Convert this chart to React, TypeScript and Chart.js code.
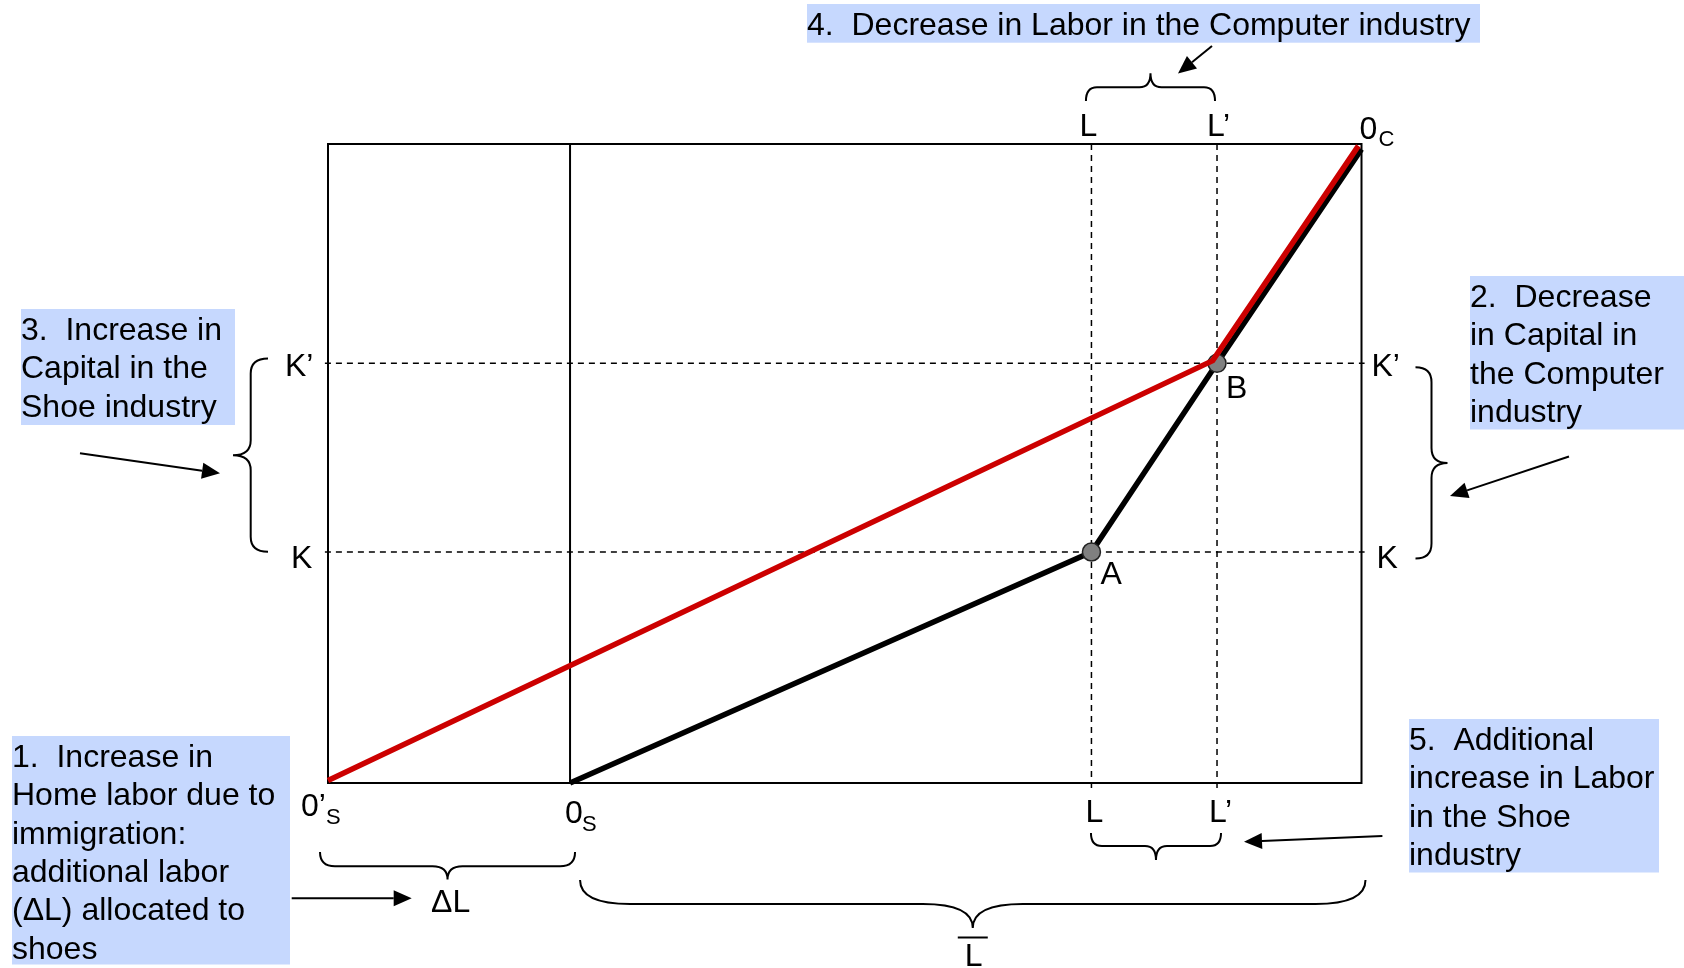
import React, { useEffect, useRef } from "react";
import { Chart, registerables } from "chart.js";

Chart.register(...registerables);

// ---- Data (labor on x, capital on y; 0'S at bottom-left, 0C at top-right) ----
const X_RANGE = [0, 100];
const Y_RANGE = [0, 100];
const originShoeNew = 0; // 0'S
const originShoe = 23.42; // 0S
const laborL = 73.87; // L
const laborL2 = 86.02; // L'
const capitalK = 36.15; // K
const capitalK2 = 65.68; // K'

const redX = [0, 85.6, 99.7];
const redY = [0.4, 66.1, 99.7];
const blackX = [23.42, 73.87, 86.02, 100];
const blackY = [0, 36.15, 65.68, 99.2];
const pointNames = ["A", "B"];
const pointX = [73.87, 86.02];
const pointY = [36.15, 65.68];

const box1Lines = ["1.  Increase in", "Home labor due to", "immigration:", "additional labor", "(\u0394L) allocated to", "shoes"];
const box2Lines = ["2.  Decrease", "in Capital in", "the Computer", "industry"];
const box3Lines = ["3.  Increase in", "Capital in the", "Shoe industry"];
const box4Lines = ["4.  Decrease in Labor in the Computer industry"];
const box5Lines = ["5.  Additional", "increase in Labor", "in the Shoe", "industry"];

const FONT = '"Liberation Sans", Arial, sans-serif';
const BOX_FILL = "#c6d8fe";
const RED = "#cc0000";

function pts(xs: number[], ys: number[]) {
  return xs.map((x, i) => ({ x, y: ys[i] }));
}

function brace(ctx: CanvasRenderingContext2D, ax: number, ay: number, bx: number, by: number, h1: number, h2: number, r: number, side: number) {
  const dx = bx - ax, dy = by - ay;
  const len = Math.hypot(dx, dy);
  const ux = dx / len, uy = dy / len;
  const nx = -uy * side, ny = ux * side;
  const P = (s: number, t: number): [number, number] => [ax + s * ux + t * nx, ay + s * uy + t * ny];
  const m = len / 2;
  ctx.beginPath();
  let p = P(0, 0);
  ctx.moveTo(p[0], p[1]);
  let c = P(0, h1); p = P(r, h1);
  ctx.quadraticCurveTo(c[0], c[1], p[0], p[1]);
  p = P(m - r, h1);
  ctx.lineTo(p[0], p[1]);
  c = P(m, h1); p = P(m, h1 + h2);
  ctx.quadraticCurveTo(c[0], c[1], p[0], p[1]);
  p = P(len, 0);
  ctx.moveTo(p[0], p[1]);
  c = P(len, h1); p = P(len - r, h1);
  ctx.quadraticCurveTo(c[0], c[1], p[0], p[1]);
  p = P(m + r, h1);
  ctx.lineTo(p[0], p[1]);
  c = P(m, h1); p = P(m, h1 + h2);
  ctx.quadraticCurveTo(c[0], c[1], p[0], p[1]);
  ctx.stroke();
}

function arrow(ctx: CanvasRenderingContext2D, x1: number, y1: number, x2: number, y2: number) {
  const ang = Math.atan2(y2 - y1, x2 - x1);
  const hl = 18, hw = 8;
  const bx = x2 - hl * Math.cos(ang), by = y2 - hl * Math.sin(ang);
  ctx.beginPath();
  ctx.moveTo(x1, y1);
  ctx.lineTo(bx, by);
  ctx.stroke();
  ctx.beginPath();
  ctx.moveTo(x2, y2);
  ctx.lineTo(bx + hw * Math.sin(ang), by - hw * Math.cos(ang));
  ctx.lineTo(bx - hw * Math.sin(ang), by + hw * Math.cos(ang));
  ctx.closePath();
  ctx.fill();
}

function textBox(ctx: CanvasRenderingContext2D, lines: string[], x: number, y: number, w: number, h: number) {
  ctx.fillStyle = BOX_FILL;
  ctx.fillRect(x, y, w, h);
  ctx.fillStyle = "#000";
  ctx.font = `32px ${FONT}`;
  ctx.textAlign = "left";
  ctx.textBaseline = "alphabetic";
  lines.forEach((ln, i) => ctx.fillText(ln, x, y + 31 + i * 38.3));
}

function label(ctx: CanvasRenderingContext2D, main: string, x: number, y: number, sub?: string, subDx?: number, subDy?: number) {
  ctx.font = `32px ${FONT}`;
  ctx.textAlign = "left";
  ctx.textBaseline = "alphabetic";
  ctx.fillStyle = "#000";
  ctx.fillText(main, x, y);
  if (sub) {
    ctx.font = `22px ${FONT}`;
    ctx.fillText(sub, x + (subDx || 0), y + (subDy || 0));
  }
}

const diagramPlugin = {
  id: "diagram",
  beforeDatasetsDraw(chart: any) {
    const { ctx, chartArea: a } = chart;
    ctx.save();
    ctx.strokeStyle = "#000";
    ctx.lineWidth = 2;
    ctx.strokeRect(a.left, a.top, a.right - a.left, a.bottom - a.top);
    ctx.restore();
  },
  afterDraw(chart: any) {
    const ctx: CanvasRenderingContext2D = chart.ctx;
    const xs = chart.scales.x, ys = chart.scales.y;
    const px = (v: number) => xs.getPixelForValue(v);
    const py = (v: number) => ys.getPixelForValue(v);
    const top = py(Y_RANGE[1]), bottom = py(Y_RANGE[0]);
    const left = px(X_RANGE[0]), right = px(X_RANGE[1]);
    ctx.save();

    // text boxes
    textBox(ctx, box4Lines, 807, 4, 673, 38.7);
    textBox(ctx, box3Lines, 21, 309, 214, 116);
    textBox(ctx, box2Lines, 1470, 276, 214, 153.5);
    textBox(ctx, box1Lines, 12, 736, 278, 228.5);
    textBox(ctx, box5Lines, 1409, 719, 250, 153.5);

    // axis labels
    label(ctx, "L", px(laborL) - 12, top - 8);
    label(ctx, "L\u2019", px(laborL2) - 10, top - 8);
    label(ctx, "0", right - 2, top - 5, "C", 19, 7);
    label(ctx, "K\u2019", left - 43, py(capitalK2) + 13);
    label(ctx, "K", left - 37, py(capitalK) + 16);
    label(ctx, "K\u2019", right + 10, py(capitalK2) + 13);
    label(ctx, "K", right + 15, py(capitalK) + 16);
    label(ctx, "0\u2019", px(originShoeNew) - 27, bottom + 33, "S", 25, 8);
    label(ctx, "0", px(originShoe) - 5, bottom + 40, "S", 17, 8);
    label(ctx, "L", px(laborL) - 6, bottom + 39);
    label(ctx, "L\u2019", px(laborL2) - 8, bottom + 39);
    pointNames.forEach((n, i) => {
      label(ctx, n, px(pointX[i]) + 9, py(pointY[i]) + (i === 0 ? 32 : 35));
    });
    label(ctx, "\u0394L", (px(originShoeNew) + px(originShoe)) / 2 - 18, 912);

    // L-bar under the big brace, centred on its tip
    const bigA = px(originShoe) + 10, bigB = right + 4;
    const lbx = (bigA + bigB) / 2;
    ctx.font = `32px ${FONT}`;
    ctx.textAlign = "center";
    ctx.fillText("L", lbx + 1, 966);

    ctx.strokeStyle = "#000";
    ctx.fillStyle = "#000";
    ctx.lineWidth = 2;
    ctx.beginPath();
    ctx.moveTo(lbx - 15, 937.5);
    ctx.lineTo(lbx + 15, 937.5);
    ctx.stroke();

    // braces
    brace(ctx, px(laborL) - 5.5, top - 43, px(laborL2) - 2, top - 43, 13.7, 14, 11, -1);
    brace(ctx, left - 60, py(capitalK2) - 4.7, left - 60, py(capitalK) - 0.3, 17.3, 17.7, 15, 1);
    brace(ctx, right + 54, py(capitalK2) + 4, right + 54, py(capitalK) + 6.5, 16, 16, 15, -1);
    brace(ctx, left - 8, bottom + 69, px(originShoe) + 5, bottom + 69, 14.3, 13.3, 15, 1);
    brace(ctx, px(laborL) - 0.5, bottom + 50, px(laborL2) + 4, bottom + 50, 13, 14, 11, 1);
    brace(ctx, bigA, bottom + 97, bigB, bottom + 97, 24, 24, 50, 1);

    // arrows
    arrow(ctx, 1212, 46, 1178, 73.5);
    arrow(ctx, 80, 453.3, 220, 473.3);
    arrow(ctx, 1569, 456.5, 1450, 496);
    arrow(ctx, 291.7, 898.3, 411.7, 898.3);
    arrow(ctx, 1382.4, 836, 1244, 841.7);

    ctx.restore();
  },
};

export default function App() {
  const ref = useRef<HTMLCanvasElement | null>(null);
  useEffect(() => {
    if (!ref.current) return;
    const dash = {
      borderColor: "#000",
      borderWidth: 1.5,
      borderDash: [6, 5],
      pointRadius: 0,
      showLine: true,
      clip: false as any,
    };
    const chart = new Chart(ref.current, {
      type: "scatter",
      data: {
        datasets: [
          { label: "red", data: pts(redX, redY), showLine: true, borderColor: RED, borderWidth: 5.5, pointRadius: 0, clip: false as any },
          {
            label: "points",
            data: pts(pointX, pointY),
            showLine: false,
            pointRadius: 9,
            pointBackgroundColor: "#808080",
            pointBorderColor: "#222",
            pointBorderWidth: 1.5,
            clip: false as any,
          },
          { label: "black", data: pts(blackX, blackY), showLine: true, borderColor: "#000", borderWidth: 5.5, pointRadius: 0, clip: false as any },
          { label: "0S", data: pts([originShoe, originShoe], [Y_RANGE[0], Y_RANGE[1]]), showLine: true, borderColor: "#000", borderWidth: 2, pointRadius: 0, clip: false as any },
          { label: "K", data: pts([-0.3, 100.3], [capitalK, capitalK]), ...dash },
          { label: "K'", data: pts([-0.3, 100.3], [capitalK2, capitalK2]), ...dash },
          { label: "L", data: pts([laborL, laborL], [-0.8, 100.3]), ...dash },
          { label: "L'", data: pts([laborL2, laborL2], [-0.8, 100.3]), ...dash },
        ],
      },
      options: {
        animation: false,
        responsive: false,
        events: [],
        layout: { padding: { left: 328, right: 322.5, top: 144, bottom: 185 } },
        plugins: { legend: { display: false }, tooltip: { enabled: false } },
        scales: {
          x: { type: "linear", min: X_RANGE[0], max: X_RANGE[1], display: false },
          y: { type: "linear", min: Y_RANGE[0], max: Y_RANGE[1], display: false },
        },
      },
      plugins: [diagramPlugin],
    });
    return () => chart.destroy();
  }, []);
  return (
    <div style={{ position: "fixed", left: 0, top: 0, width: 1684, height: 968, background: "#fff" }}>
      <canvas ref={ref} width={1684} height={968} style={{ display: "block" }} />
    </div>
  );
}
